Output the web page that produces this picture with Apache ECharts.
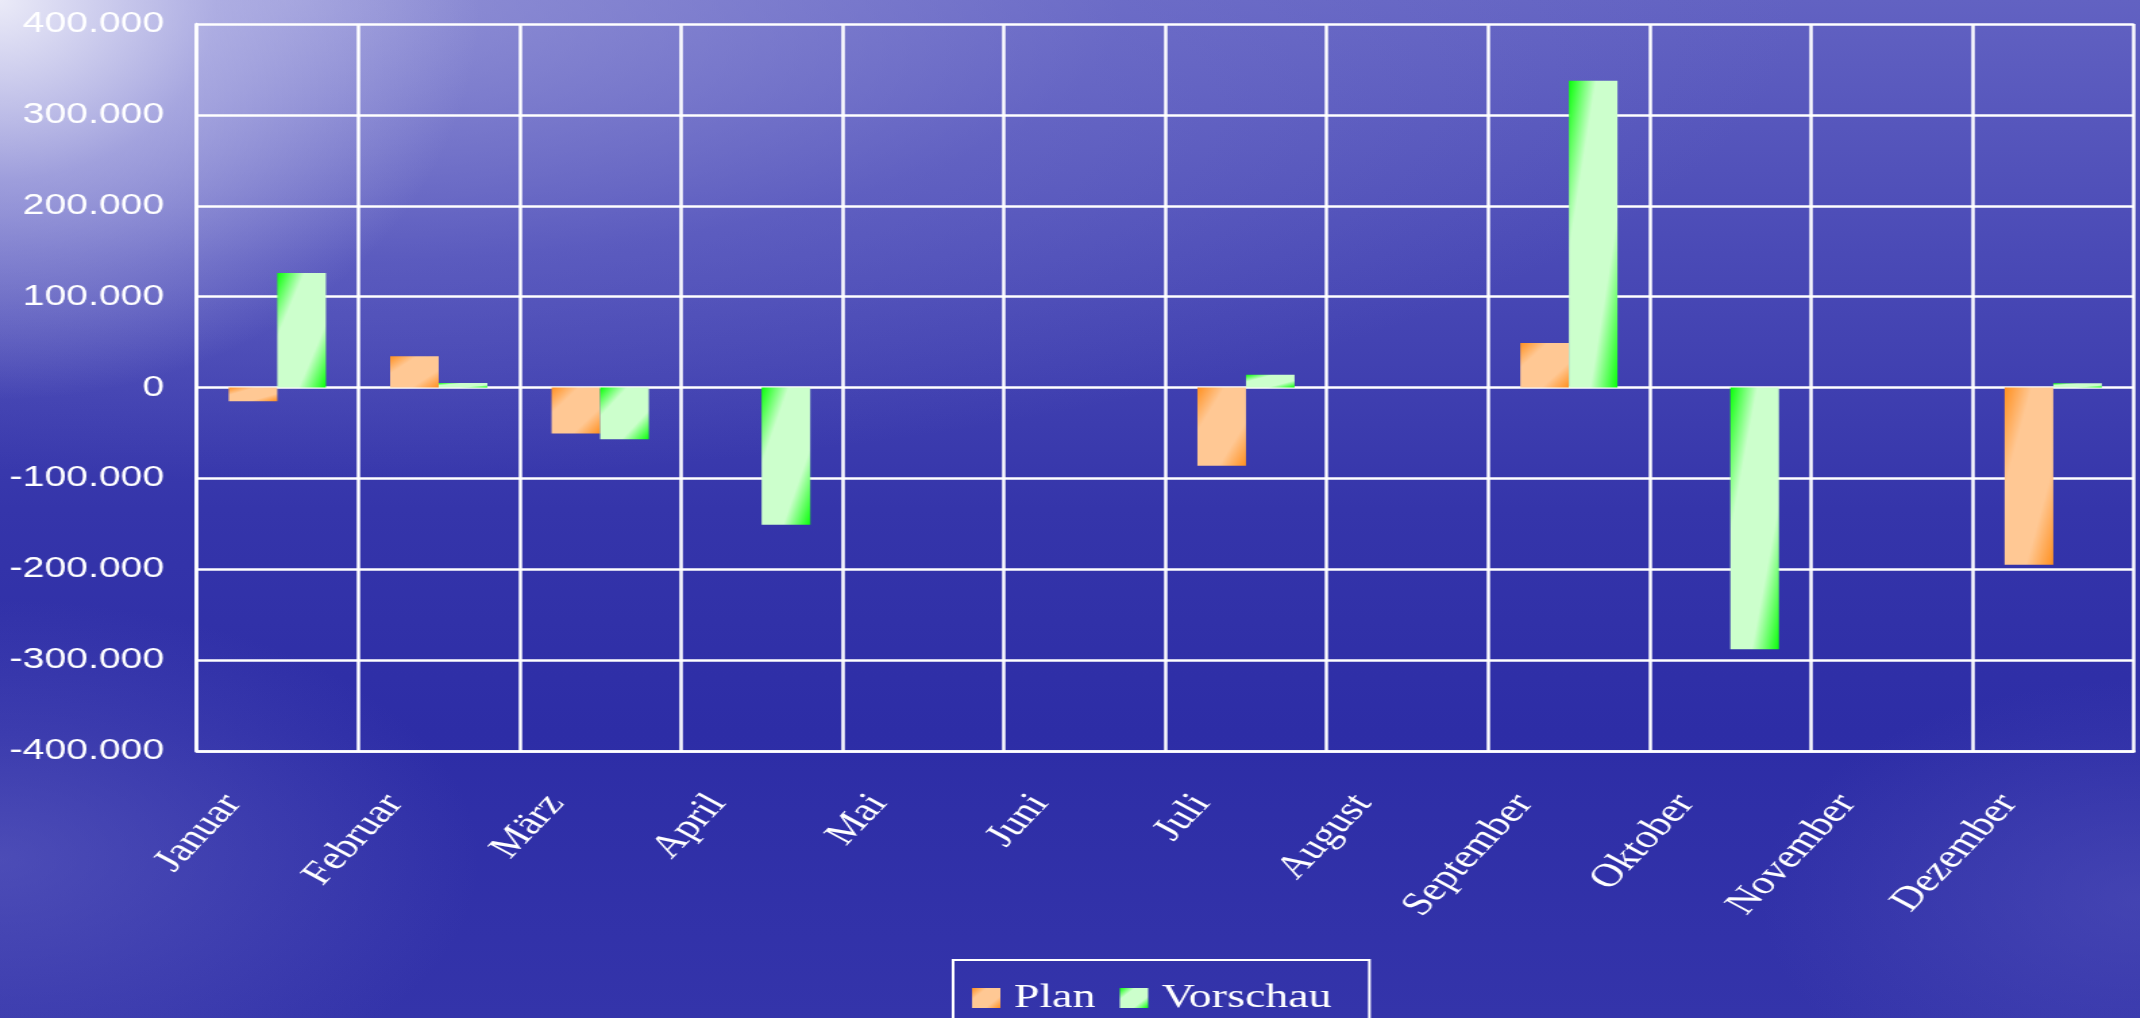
<!DOCTYPE html>
<html>
<head>
<meta charset="utf-8">
<script src="https://cdn.jsdelivr.net/npm/echarts@6/dist/echarts.min.js"></script>
<style>
html, body {
	margin: 0;
	padding: 0;
	width: 2140px;
	height: 1018px;
	overflow: hidden;
}
body {
	background:
		radial-gradient(ellipse 480px 400px at 0px 0px, rgba(240,240,250,0.95), rgba(200,200,238,0.55) 45%, rgba(160,160,225,0) 100%),
		radial-gradient(ellipse 1500px 480px at 300px 0px, rgba(165,165,222,0.7), rgba(130,130,210,0.3) 55%, rgba(110,110,200,0) 100%),
		radial-gradient(ellipse 480px 260px at 0px 860px, rgba(110,110,200,0.45), rgba(100,100,195,0) 100%),
		radial-gradient(ellipse 380px 220px at 2140px 900px, rgba(90,90,190,0.45), rgba(90,90,190,0) 100%),
		linear-gradient(180deg, #6262c2 0%, #4a4ab6 25%, #3535aa 50%, #2d2da6 72%, #3434aa 100%);
}
/* Vorlage ist horizontal gestreckt -> Chart schmaler zeichnen und strecken */
#chart {
	width: 1585px;
	height: 1018px;
	transform: scaleX(1.35);
	transform-origin: 0 0;
}
</style>
</head>
<body>
<div id="chart"></div>
<script>
var months = ['Januar','Februar','März','April','Mai','Juni','Juli','August','September','Oktober','November','Dezember'];
var planValues = [-15000, 34500, -50500, 0, 0, 0, -86000, 0, 49000, 0, 0, -195000];
var forecastValues = [126000, 5000, -57000, -151000, 0, 0, 14000, 0, 337500, -288000, 0, 4700];
var yTicks = [-400000, -300000, -200000, -100000, 0, 100000, 200000, 300000, 400000];

var gridTop = 24, gridBottom = 267;
var barW = 36;
var pxPerUnit = (1018 - gridTop - gridBottom) / (yTicks[yTicks.length-1] - yTicks[0]);

var orangeStops = [{offset:0,color:'#ff9020'},{offset:0.28,color:'#ffc894'},{offset:0.72,color:'#ffc894'},{offset:1,color:'#ff9020'}];
var greenStops = [{offset:0,color:'#08ff08'},{offset:0.28,color:'#ccffcc'},{offset:0.72,color:'#ccffcc'},{offset:1,color:'#08ff08'}];

// Verlauf diagonal relativ zur Balkenform (wie in PowerPoint)
function diagGrad(value, stops){
	var h = Math.max(Math.abs(value) * pxPerUnit, 1);
	var w = barW;
	var x2 = 2*h*h/(h*h+w*w);
	var y2 = 2*w*w/(h*h+w*w);
	return new echarts.graphic.LinearGradient(0, 0, x2, y2, stops);
}

function withGrad(values, stops){
	var out = [];
	for(var i=0;i<values.length;i++){
		out.push({value: values[i], itemStyle: {color: diagGrad(values[i], stops)}});
	}
	return out;
}

function fmtDe(v){
	var s = Math.abs(v).toString().replace(/\B(?=(\d{3})+(?!\d))/g, '.');
	return (v < 0 ? '-' : '') + s;
}

var myChart = echarts.init(document.getElementById('chart'));

var option = {
	backgroundColor: 'transparent',
	animation: false,
	grid: {
		left: 145.6,
		right: 4.3,
		top: gridTop,
		bottom: gridBottom
	},
	legend: {
		data: ['Plan', 'Vorschau'],
		left: 706,
		top: 960,
		icon: 'rect',
		itemWidth: 21,
		itemHeight: 20,
		itemGap: 18,
		padding: [21, 28, 21, 14],
		borderColor: '#ffffff',
		borderWidth: 2,
		textStyle: {
			color: '#ffffff',
			fontFamily: 'Liberation Serif',
			fontSize: 34,
			padding: [0, 0, 0, 5]
		}
	},
	xAxis: {
		type: 'category',
		data: months,
		axisLine: { show: true, onZero: false, lineStyle: { color: '#ffffff', width: 2.5 } },
		axisTick: { show: false },
		splitLine: { show: true, lineStyle: { color: '#ffffff', width: 2.5 } },
		axisLabel: {
			interval: 0,
			rotate: 54,
			margin: 2,
			padding: [0, 56, 0, 0],
			color: '#ffffff',
			fontFamily: 'Liberation Serif',
			fontSize: 33
		}
	},
	yAxis: {
		type: 'value',
		min: yTicks[0],
		max: yTicks[yTicks.length-1],
		interval: 100000,
		axisLine: { show: true, lineStyle: { color: '#ffffff', width: 2.5 } },
		axisTick: { show: false },
		splitLine: { show: true, lineStyle: { color: '#ffffff', width: 2.5 } },
		axisLabel: {
			margin: 24,
			color: '#ffffff',
			fontFamily: 'Liberation Sans',
			fontSize: 29,
			formatter: fmtDe
		}
	},
	series: [
		{
			name: 'Plan',
			type: 'bar',
			barWidth: barW,
			barGap: '0%',
			itemStyle: { color: new echarts.graphic.LinearGradient(0, 0, 1, 1, orangeStops) },
			data: withGrad(planValues, orangeStops)
		},
		{
			name: 'Vorschau',
			type: 'bar',
			barWidth: barW,
			barGap: '0%',
			itemStyle: { color: new echarts.graphic.LinearGradient(0, 0, 1, 1, greenStops) },
			data: withGrad(forecastValues, greenStops)
		}
	]
};
myChart.setOption(option);
</script>
</body>
</html>
